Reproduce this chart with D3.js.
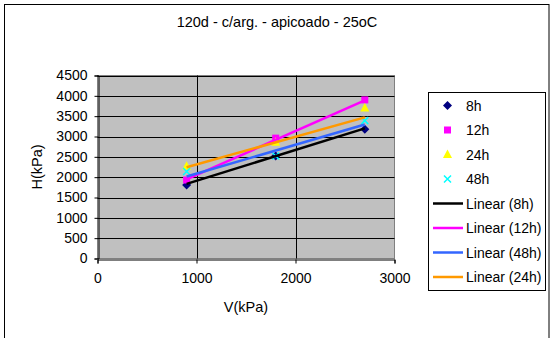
<!DOCTYPE html>
<html><head><meta charset="utf-8">
<script src="https://cdn.jsdelivr.net/npm/d3@7"></script>
<style>body{margin:0;background:#fff;}svg{display:block;font-family:"Liberation Sans",Arial,sans-serif;}</style>
</head><body><svg id="c" width="551" height="338"></svg>
<script>
const title = "120d - c/arg. - apicoado - 25oC";
const xLabel = "V(kPa)";
const yLabel = "H(kPa)";
const vValues = [900, 1800, 2700];
const h8 = [1810, 2520, 3180];
const h12 = [1930, 2960, 3900];
const h24 = [2270, 2860, 3700];
const h48 = [2140, 2520, 3390];
// trendline values read at the first and last V
const trendX = [900, 2700];
const trend8 = [1835, 3200];
const trend12 = [1945, 3890];
const trend48 = [2015, 3295];
const trend24 = [2245, 3470];
const xTicks = [0, 1000, 2000, 3000];
const yTicks = [0, 500, 1000, 1500, 2000, 2500, 3000, 3500, 4000, 4500];

const svg = d3.select("#c");
svg.append("rect").attr("x",4.5).attr("y",4.5).attr("width",544.5).attr("height",345)
  .attr("fill","#fff").attr("stroke","#000").attr("stroke-width",1);

const x = d3.scaleLinear().domain([0,3000]).range([97.5,394.5]);
const y = d3.scaleLinear().domain([0,4500]).range([258.5,75.5]);

svg.append("rect").attr("x",x(0)).attr("y",y(4500)).attr("width",x(3000)-x(0)).attr("height",y(0)-y(4500))
  .attr("fill","#C0C0C0").attr("stroke","#808080").attr("stroke-width",1);

// gridlines
svg.append("g").selectAll("line").data(yTicks.filter(d=>d>0)).join("line")
  .attr("x1",x(0)).attr("x2",x(3000)).attr("y1",d=>Math.round(y(d))+0.5).attr("y2",d=>Math.round(y(d))+0.5)
  .attr("stroke","#000").attr("stroke-width",1);
svg.append("g").selectAll("line").data(xTicks.filter(d=>d>0&&d<3000)).join("line")
  .attr("y1",y(0)).attr("y2",y(4500)).attr("x1",d=>Math.round(x(d))+0.5).attr("x2",d=>Math.round(x(d))+0.5)
  .attr("stroke","#000").attr("stroke-width",1);

// axes
const xAxis = d3.axisBottom(x).tickValues(xTicks).tickSize(4).tickPadding(10).tickFormat(d3.format("d"));
const yAxis = d3.axisLeft(y).tickValues(yTicks).tickSize(4).tickPadding(7).tickFormat(d3.format("d"));
const gx = svg.append("g").attr("transform",`translate(0,${Math.round(y(0))+0.5})`).call(xAxis);
const gy = svg.append("g").attr("transform",`translate(${Math.round(x(0))+0.5},0)`).call(yAxis);
[gx,gy].forEach(g=>{
  g.select(".domain").attr("stroke","#000");
  g.selectAll(".tick line").attr("stroke","#000");
  g.selectAll("text").attr("font-size","14px").attr("fill","#000").attr("font-family","Liberation Sans, Arial, sans-serif");
});

svg.append("text").attr("x",277).attr("y",27).attr("text-anchor","middle").attr("font-size","14.5px").text(title);
svg.append("text").attr("x",246).attr("y",312).attr("text-anchor","middle").attr("font-size","14.5px").text(xLabel);
svg.append("text").attr("transform","translate(42,167) rotate(-90)").attr("text-anchor","middle").attr("font-size","14.5px").text(yLabel);

const series = [
  {name:"8h", vals:h8, color:"#000080", shape:"diamond"},
  {name:"12h", vals:h12, color:"#FF00FF", shape:"square"},
  {name:"24h", vals:h24, color:"#FFFF00", shape:"triangle"},
  {name:"48h", vals:h48, color:"#00FFFF", shape:"x"}
];
const trends = [
  {name:"Linear (8h)", vals:trend8, color:"#000000"},
  {name:"Linear (12h)", vals:trend12, color:"#FF00FF"},
  {name:"Linear (48h)", vals:trend48, color:"#3366FF"},
  {name:"Linear (24h)", vals:trend24, color:"#FF9900"}
];

function marker(g, shape, color){
  if(shape==="diamond") g.append("path").attr("d","M0,-4.5L4.5,0L0,4.5L-4.5,0Z").attr("fill",color);
  else if(shape==="square") g.append("rect").attr("x",-3.5).attr("y",-3.5).attr("width",7).attr("height",7).attr("fill",color);
  else if(shape==="triangle") g.append("path").attr("d","M0,-5L4.5,3.5L-4.5,3.5Z").attr("fill",color);
  else if(shape==="x") g.append("path").attr("d","M-3.5,-3.5L3.5,3.5M-3.5,3.5L3.5,-3.5").attr("stroke",color).attr("stroke-width",1.5).attr("fill","none");
}

series.forEach(s=>{
  s.vals.forEach((v,i)=>{
    const g = svg.append("g").attr("transform",`translate(${x(vValues[i])},${y(v)})`);
    marker(g, s.shape, s.color);
  });
});

const line = d3.line().x(d=>x(d[0])).y(d=>y(d[1]));
trends.forEach(t=>{
  svg.append("path").datum(trendX.map((xv,i)=>[xv,t.vals[i]])).attr("d",line)
    .attr("stroke",t.color).attr("stroke-width",2.5).attr("fill","none");
});

// legend
const lg = svg.append("g");
lg.append("rect").attr("x",428.5).attr("y",92.5).attr("width",117).attr("height",198)
  .attr("fill","#fff").attr("stroke","#000").attr("stroke-width",1);
const ly0 = 105.5, ldy = 24.5;
series.forEach((s,i)=>{
  const g = lg.append("g").attr("transform",`translate(447.5,${ly0+i*ldy})`);
  marker(g, s.shape, s.color);
  lg.append("text").attr("x",466).attr("y",ly0+i*ldy+5).attr("font-size","14px").text(s.name);
});
trends.forEach((t,j)=>{
  const i = j+4;
  lg.append("line").attr("x1",433).attr("x2",463).attr("y1",ly0+i*ldy).attr("y2",ly0+i*ldy)
    .attr("stroke",t.color).attr("stroke-width",2.5);
  lg.append("text").attr("x",466).attr("y",ly0+i*ldy+5).attr("font-size","14px").text(t.name);
});
</script></body></html>
